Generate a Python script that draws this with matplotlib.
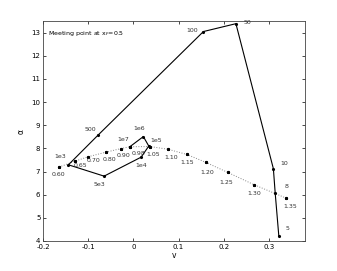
import matplotlib
matplotlib.use("Agg")
import matplotlib.pyplot as plt

# solid curve: labelled by parameter value
solid_labels = ["5", "8", "10", "50", "100", "500", "1e3", "5e3", "1e4", "1e5", "1e6", "1e7"]
solid_v = [0.322, 0.314, 0.310, 0.227, 0.155, -0.078, -0.144, -0.065, 0.017, 0.034, 0.022, -0.008]
solid_a = [4.22, 6.07, 7.12, 13.39, 13.05, 8.58, 7.29, 6.80, 7.62, 8.10, 8.51, 8.07]

# dotted curve
dot_labels = ["0.60", "0.65", "0.70", "0.80", "0.90", "0.98", "1.05", "1.10",
              "1.15", "1.20", "1.25", "1.30", "1.35"]
dot_v = [-0.165, -0.129, -0.100, -0.060, -0.028, -0.008, 0.037, 0.077,
         0.118, 0.161, 0.209, 0.267, 0.337]
dot_a = [7.19, 7.45, 7.64, 7.84, 7.99, 8.07, 8.08, 7.96,
         7.74, 7.39, 6.96, 6.43, 5.86]

# label offsets in points
solid_off = [(6, 5), (8, 5), (8, 4), (8, 1), (-8, 1), (-6, 4), (-6, 6), (-3, -6),
             (0, -6), (5, 4), (-3, 6), (-5, 5)]
dot_off = [(0, -5), (4, -3), (4, -3), (2, -5), (2, -5), (6, -5), (2, -6), (2, -6),
           (0, -6), (1, -7), (-1, -7), (0, -6), (3, -6)]

fig = plt.figure(figsize=(3.37, 2.71), dpi=100)
ax = fig.add_axes([0.128, 0.111, 0.777, 0.811])

ax.plot(dot_v, dot_a, color="#888888", linestyle=":", linewidth=0.7,
        marker="*", markersize=2, markeredgecolor="k", markerfacecolor="k")
ax.plot(solid_v, solid_a, color="k", linewidth=0.8, marker=".", markersize=2.5)

for lab, x, y, off in zip(solid_labels, solid_v, solid_a, solid_off):
    ax.annotate(lab, (x, y), xytext=off, textcoords="offset points",
                fontsize=4.5, ha="center", va="center", color="#333333")
for lab, x, y, off in zip(dot_labels, dot_v, dot_a, dot_off):
    ax.annotate(lab, (x, y), xytext=off, textcoords="offset points",
                fontsize=4.5, ha="center", va="center", color="#333333")

ax.text(0.02, 0.965, r"Meeting point at x$_F$=0.5", transform=ax.transAxes,
        fontsize=4.5, ha="left", va="top")

ax.set_xlim(-0.2, 0.38)
ax.set_ylim(4, 13.5)
ax.set_xticks([-0.2, -0.1, 0, 0.1, 0.2, 0.3])
ax.set_xticklabels(["-0.2", "-0.1", "0", "0.1", "0.2", "0.3"])
ax.set_yticks(range(4, 14))
ax.tick_params(labelsize=5, direction="in", length=2, width=0.5,
               top=True, right=True, pad=2)
for s in ax.spines.values():
    s.set_linewidth(0.6)
    s.set_color("#444444")
ax.set_xlabel("v", fontsize=5.5, labelpad=1)
ax.set_ylabel("α", fontsize=5.5, labelpad=4)

fig.savefig("out.png", dpi=100)
